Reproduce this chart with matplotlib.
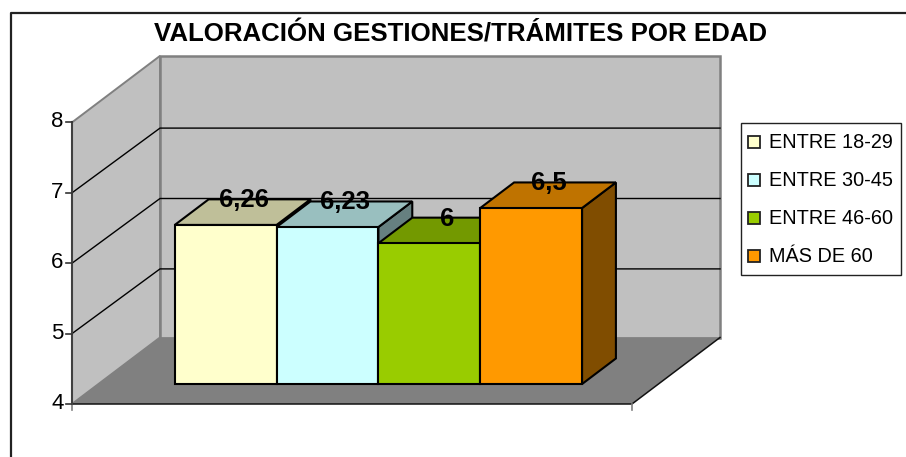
import matplotlib
matplotlib.use('Agg')
import matplotlib.pyplot as plt
from matplotlib.patches import Polygon, Rectangle

# Chart data
title = "VALORACIÓN GESTIONES/TRÁMITES POR EDAD"
categories = ['ENTRE 18-29', 'ENTRE 30-45', 'ENTRE 46-60', 'MÁS DE 60']
values = [6.26, 6.23, 6, 6.5]
labels = ['6,26', '6,23', '6', '6,5']
y_ticks = [4, 5, 6, 7, 8]
colors = ['#FFFFCC', '#CCFFFF', '#99CC00', '#FF9900']
tops = ['#BFBF99', '#99BFBF', '#739900', '#BF7300']
sides = ['#808066', '#668080', '#4D6600', '#804D00']

plt.rcParams['font.family'] = ['Liberation Sans', 'DejaVu Sans']

# Oblique projection of the Excel style 3D box, in pixels
X0, X1 = 72.0, 632.0
Y0 = 404.0
PX_PER_UNIT = 70.4
DX, DY = 88.0, -66.5
GRID_DROP = 1.8  # back wall gridlines land a bit lower than the pure projection


def val_h(v):
    return (v - y_ticks[0]) * PX_PER_UNIT


def project(x, v, d):
    # x: 0-1 along the category axis, v: value, d: 0-1 into the depth
    return (X0 + x * (X1 - X0) + d * DX, Y0 - val_h(v) + d * DY)


fig = plt.figure(figsize=(9.06, 4.57), dpi=100)
ax = fig.add_axes([0, 0, 1, 1])
ax.set_xlim(0, 906)
ax.set_ylim(457, 0)
ax.axis('off')

# Outer chart frame, runs off the picture
ax.plot([10.5, 10.5, 906], [457, 12.5, 12.5], color='#222222', lw=1.6, zorder=1)

ax.text(461, 34.8, title, ha='center', va='center', fontsize=18.6, fontweight='bold', color='black')

# Walls and floor
vmin, vmax = y_ticks[0], y_ticks[-1]
ax.add_patch(Polygon([project(0, vmin, 1), project(1, vmin, 1), project(1, vmax, 1), project(0, vmax, 1)],
                     closed=True, fc='#C0C0C0', ec='#808080', lw=1.8, zorder=2))
ax.add_patch(Polygon([project(0, vmin, 0), project(0, vmin, 1), project(0, vmax, 1), project(0, vmax, 0)],
                     closed=True, fc='#C0C0C0', ec='#808080', lw=1.4, zorder=2))
ax.add_patch(Polygon([project(0, vmin, 0), project(1, vmin, 0), project(1, vmin, 1), project(0, vmin, 1)],
                     closed=True, fc='#808080', ec='none', zorder=3))

# Gridlines on both walls
for v in y_ticks[1:-1]:
    p0, p1, p2 = project(0, v, 0), project(0, v, 1), project(1, v, 1)
    ax.plot([p0[0], p1[0], p2[0]], [p0[1], p1[1] + GRID_DROP, p2[1] + GRID_DROP], color='black', lw=1.0, zorder=3)

# Axis lines and ticks
a, b = project(0, vmin, 0), project(0, vmax, 0)
ax.plot([a[0], b[0]], [a[1], b[1]], color='#404040', lw=1.5, zorder=4)
a, b, c = project(0, vmin, 0), project(1, vmin, 0), project(1, vmin, 1)
ax.plot([a[0], b[0], c[0]], [a[1], b[1], c[1]], color='#111111', lw=1.1, zorder=4)
for x in (0, 1):
    p = project(x, vmin, 0)
    ax.plot([p[0], p[0]], [p[1], p[1] + 6], color='#808080', lw=1.2, zorder=4)
for v in y_ticks:
    p = project(0, v, 0)
    ax.plot([p[0] - 6, p[0]], [p[1], p[1]], color='#333333', lw=1.2, zorder=4)
    ax.text(p[0] - 8.5, p[1] - 0.5, str(v), ha='right', va='center', fontsize=16, color='black', zorder=5)

# Bars: gap width 150 %, series side by side inside one category
n = len(values)
bar_w = 1 / (n + 1.5)
x_start = 0.75 * bar_w
d0, d1 = 0.30, 0.685
for i, v in enumerate(values):
    l = x_start + i * bar_w
    r = l + bar_w
    kw = dict(closed=True, ec='black', lw=1.5, joinstyle='miter', zorder=6 + i)
    ax.add_patch(Polygon([project(r, vmin, d0), project(r, vmin, d1), project(r, v, d1), project(r, v, d0)],
                         fc=sides[i], **kw))
    ax.add_patch(Polygon([project(l, v, d0), project(l, v, d1), project(r, v, d1), project(r, v, d0)],
                         fc=tops[i], **kw))
    ax.add_patch(Polygon([project(l, vmin, d0), project(r, vmin, d0), project(r, v, d0), project(l, v, d0)],
                         fc=colors[i], **kw))

# Data labels sit on top of everything
for i, v in enumerate(values):
    px, py = project(x_start + (i + 0.5) * bar_w, v, d1)
    ax.text(px - 16, py + 1, labels[i], ha='center', va='center', fontsize=18.5, fontweight='bold',
            color='black', zorder=20)

# Legend
ax.add_patch(Rectangle((740.5, 122.5), 160, 152, fc='white', ec='#222222', lw=1.0, zorder=6))
legend_y = [142, 180, 218, 255.5]
for name, col, ly in zip(categories, colors, legend_y):
    ax.add_patch(Rectangle((748, ly - 6), 12, 12, fc=col, ec='#222222', lw=1.3, zorder=7))
    ax.text(769, ly + 1, name, ha='left', va='center', fontsize=14.3, color='black', zorder=7)

fig.savefig('out.png', dpi=100)
